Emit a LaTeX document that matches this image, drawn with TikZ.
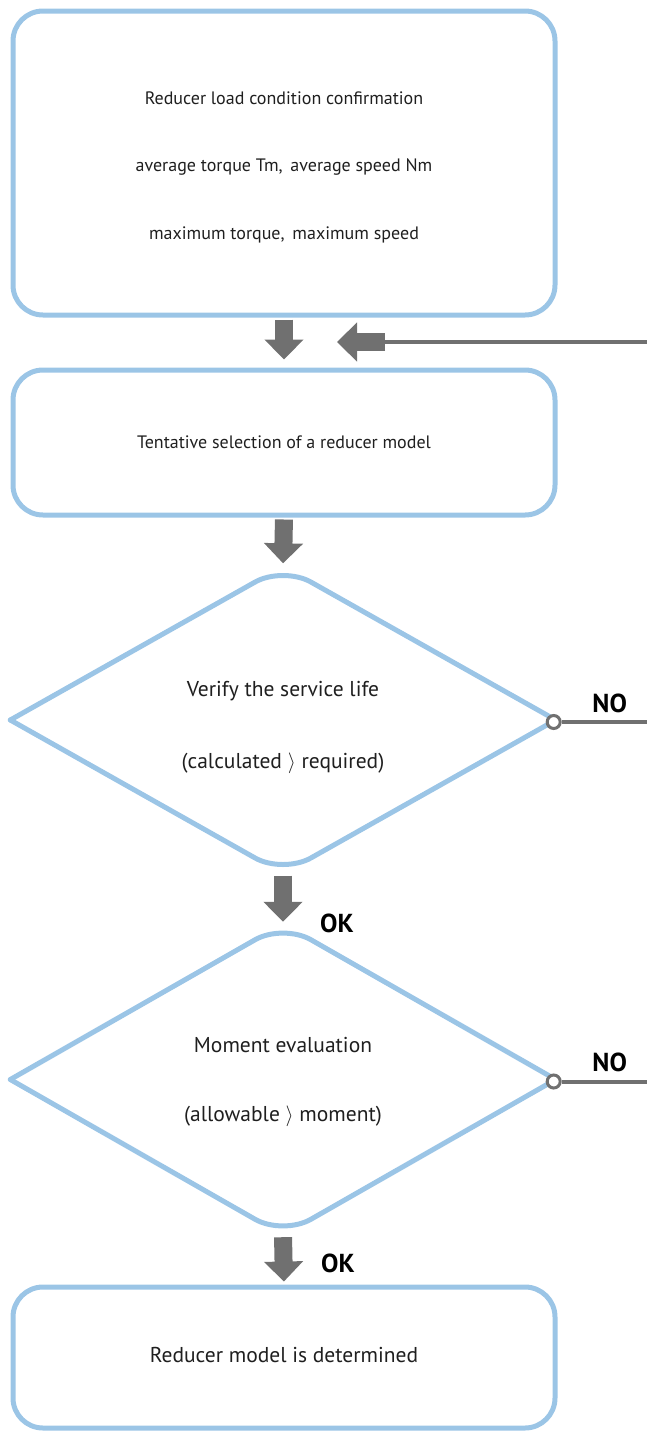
\documentclass[tikz,border=0pt]{standalone}
\usepackage{fontspec}
\setmainfont{PT Sans}
\usepackage{xcolor}
\usetikzlibrary{arrows.meta,calc,positioning,shapes}
\definecolor{lblue}{RGB}{155,197,230}
\definecolor{dgray}{RGB}{112,112,112}

\begin{document}
\begin{tikzpicture}[x=1pt,y=-1pt,
  every node/.style={text=black!88},
  small/.style={font=\fontsize{18}{22}\selectfont, align=center},
  large/.style={font=\fontsize{21.5}{26}\selectfont, align=center},
  box/.style={draw=lblue, line width=5pt, rounded corners=30pt, inner sep=0pt,
              minimum width=542pt},
  rhomb/.style={diamond, draw=none, inner sep=0pt, minimum width=545pt},
  rim/.style={draw=lblue, line width=5pt, rounded corners=32pt, line cap=round},
  flow/.style={draw=dgray, line width=18pt, -{Triangle[width=38pt,length=20pt]}},
  feed/.style={draw=dgray, line width=4pt},
  port/.style={circle, draw=dgray, fill=white, line width=3pt, minimum size=13pt, inner sep=0pt},
  answer/.style={font=\fontsize{26}{30}\selectfont\bfseries, text=black}]

\useasboundingbox (0,0) rectangle (647,1433);

% boxes and decisions
\node[box, minimum height=304pt] (load) at (284,163) {};
\node[box, minimum height=145pt] (tent) at (284,442.5) {};
\node[rhomb, minimum height=307pt] (life) at (283,720) {};
\node[rhomb, minimum height=311pt] (moment) at (283,1079.5) {};
\node[box, minimum height=141pt] (done) at (284,1357.5) {};

% outline of the decisions
\foreach \d in {life,moment}
{
  \draw[rim] (\d.west) -- (\d.north) -- (\d.east);
  \draw[rim] (\d.west) -- (\d.south) -- (\d.east);
}

% texts
\node[small] (loadtext) at ($(load)+(0,4)$)
  {Reducer load condition confirmation\\[45.5pt]
   average torque Tm,\, average speed Nm\\[45.5pt]
   maximum torque,\, maximum speed};
\node[small] (tenttext) at (tent) {Tentative selection of a reducer model};
\node[large] (lifetext) at ($(life)+(0,7)$)
  {Verify the service life\\[46pt](calculated \ensuremath{\rangle} required)};
\node[large] (momenttext) at ($(moment)+(0,2)$)
  {Moment evaluation\\[43pt](allowable \ensuremath{\rangle} moment)};
\node[large] (donetext) at ($(done)+(0,-2)$) {Reducer model is determined};

% main flow
\draw[flow, shorten <=2pt, shorten >=8pt] (load.south) -- (tent.north);
\draw[flow, shorten <=2pt, shorten >=3pt] (tent.south) -- (life.north);
\draw[flow, shorten <=2pt, shorten >=2pt] (life.south) -- (moment.north);
\draw[flow, shorten <=2pt, shorten >=3pt] (moment.south) -- (done.north);

% return into the selection
\coordinate (back) at (647,342);
\coordinate (backjoin) at (385,342);
\coordinate (backtip) at (337,342);
\draw[feed] (back) -- (backjoin);
\draw[flow] (backjoin) -- (backtip);

% NO exits
\foreach \d in {life,moment}
{
  \node[port] (\d no) at ($(\d.east)+(-2,2)$) {};
  \coordinate (\d out) at (\d no -| back);
  \draw[feed] (\d no.east) -- (\d out);
  \node[answer] (\d nolabel) at ($(\d no)+(56,-19)$) {NO};
}

% OK answers
\node[answer] (lifeok) at ($(life.south)+(54,50)$) {OK};
\node[answer] (momentok) at ($(moment.south)+(55,28)$) {OK};

\end{tikzpicture}
\end{document}
